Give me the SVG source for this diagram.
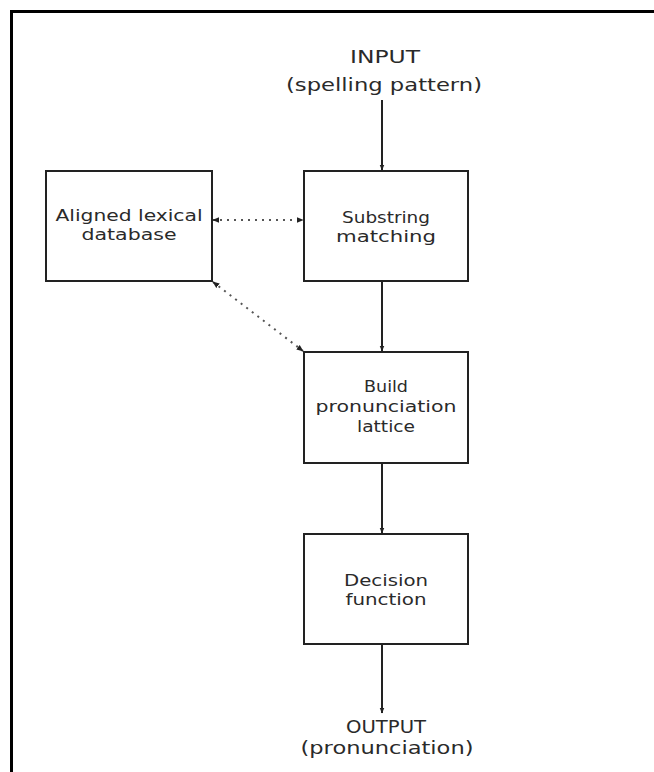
<svg xmlns="http://www.w3.org/2000/svg" width="654" height="772" viewBox="0 0 654 772">
  <defs>
    <style>
      .box { fill: #ffffff; stroke: #222; stroke-width: 2; }
      .lbl { font-family: "DejaVu Sans", "Liberation Sans", sans-serif; font-size: 16px; fill: #2a2a2a; text-anchor: middle; }
      .io { font-family: "DejaVu Sans", "Liberation Sans", sans-serif; font-size: 17px; fill: #2a2a2a; text-anchor: middle; }
      .solid { stroke: #222; stroke-width: 2; fill: none; }
      .dot { stroke: #555; stroke-width: 2; stroke-dasharray: 2 5; fill: none; }
      .frame { stroke: #000; stroke-width: 3; fill: none; }
    </style>
    <marker id="arr" viewBox="0 0 10 10" refX="9" refY="5" markerWidth="6" markerHeight="6" orient="auto" markerUnits="userSpaceOnUse">
      <path d="M0,1 L10,5 L0,9 z" fill="#222"/>
    </marker>
    <marker id="arrs" viewBox="0 0 10 10" refX="9" refY="5" markerWidth="7" markerHeight="7" orient="auto-start-reverse" markerUnits="userSpaceOnUse">
      <path d="M0,1 L10,5 L0,9 z" fill="#222"/>
    </marker>
  </defs>
  <rect width="654" height="772" fill="#ffffff"/>
  <path class="frame" d="M11.5,772 V11.5 H654"/>

  <g id="input">
    <text class="io" x="385" y="63" textLength="70" lengthAdjust="spacingAndGlyphs">INPUT</text>
    <text class="io" x="384" y="91" textLength="196" lengthAdjust="spacingAndGlyphs">(spelling pattern)</text>
  </g>

  <g id="aligned-lexical-database">
    <rect class="box" x="46" y="171" width="166" height="110"/>
    <text class="lbl" x="129" y="221" textLength="147" lengthAdjust="spacingAndGlyphs">Aligned lexical</text>
    <text class="lbl" x="129" y="240" textLength="95" lengthAdjust="spacingAndGlyphs">database</text>
  </g>

  <g id="substring-matching">
    <rect class="box" x="304" y="171" width="164" height="110"/>
    <text class="lbl" x="386" y="223" textLength="88" lengthAdjust="spacingAndGlyphs">Substring</text>
    <text class="lbl" x="386" y="242" textLength="100" lengthAdjust="spacingAndGlyphs">matching</text>
  </g>

  <g id="build-pronunciation-lattice">
    <rect class="box" x="304" y="352" width="164" height="111"/>
    <text class="lbl" x="386" y="392" textLength="44" lengthAdjust="spacingAndGlyphs">Build</text>
    <text class="lbl" x="386" y="412" textLength="141" lengthAdjust="spacingAndGlyphs">pronunciation</text>
    <text class="lbl" x="386" y="432" textLength="58" lengthAdjust="spacingAndGlyphs">lattice</text>
  </g>

  <g id="decision-function">
    <rect class="box" x="304" y="534" width="164" height="110"/>
    <text class="lbl" x="386" y="586" textLength="84" lengthAdjust="spacingAndGlyphs">Decision</text>
    <text class="lbl" x="386" y="605" textLength="81" lengthAdjust="spacingAndGlyphs">function</text>
  </g>

  <g id="output">
    <text class="io" x="386" y="733" textLength="80" lengthAdjust="spacingAndGlyphs">OUTPUT</text>
    <text class="io" x="387" y="754" textLength="173" lengthAdjust="spacingAndGlyphs">(pronunciation)</text>
  </g>

  <g id="connectors">
    <line class="solid" x1="382" y1="100" x2="382" y2="170" marker-end="url(#arr)"/>
    <line class="solid" x1="382" y1="281" x2="382" y2="351" marker-end="url(#arr)"/>
    <line class="solid" x1="382" y1="463" x2="382" y2="533" marker-end="url(#arr)"/>
    <line class="solid" x1="382" y1="644" x2="382" y2="713" marker-end="url(#arr)"/>
    <line class="dot" x1="213" y1="220" x2="303" y2="220" marker-start="url(#arrs)" marker-end="url(#arrs)"/>
    <line class="dot" x1="213" y1="282" x2="303" y2="351" marker-start="url(#arrs)" marker-end="url(#arrs)"/>
  </g>
</svg>
